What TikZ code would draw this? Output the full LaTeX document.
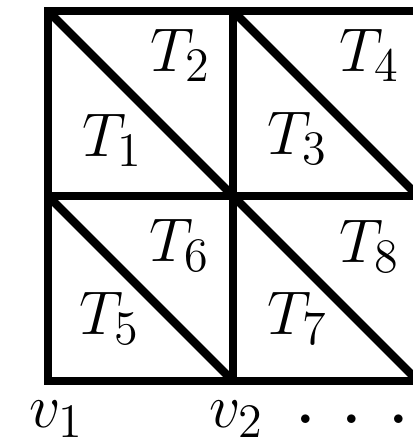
\RequirePackage{fix-cm}
\documentclass[tikz,border=0pt]{standalone}
\usepackage{amsmath,amssymb,tikz}
\DeclareMathSizes{19}{19}{14.8}{11}
\newcommand{\bigmath}{\fontsize{19}{23}\selectfont}
\newcommand{\dotfont}{\fontsize{25}{30}\selectfont}

\begin{document}
\begin{tikzpicture}[x=2cm,y=2cm,line width=2.55pt,
  lbl/.style={font=\bigmath,inner sep=0pt,anchor=base west}]
  \useasboundingbox (-0.259,-0.314) rectangle (1.973,2.059);
  \clip (-0.259,-0.314) rectangle (1.973,2.059);
  % 2x2 squares, each split by its falling diagonal
  \foreach \i in {0,1} {
    \foreach \j in {0,1} {
      \draw (\i,\j) rectangle (\i+1,\j+1);
      \draw (\i,\j+1) -- (\i+1,\j);
    }
  }
  \node[lbl] (t1) at (0.162,1.211) {$T_1$};
  \node[lbl] (t2) at (0.530,1.670) {$T_2$};
  \node[lbl] (t3) at (1.162,1.222) {$T_3$};
  \node[lbl] (t4) at (1.551,1.670) {$T_4$};
  \node[lbl] (t5) at (0.146,0.249) {$T_5$};
  \node[lbl] (t6) at (0.524,0.644) {$T_6$};
  \node[lbl] (t7) at (1.162,0.249) {$T_7$};
  \node[lbl] (t8) at (1.551,0.638) {$T_8$};
  % vertices along the bottom edge
  \node[lbl] (v1) at (-0.124,-0.254) {$v_1$};
  \node[lbl] (v2) at (0.849,-0.254) {$v_2$};
  \node[lbl,font=\dotfont] (dots) at (1.308,-0.319)
    {$\cdot$\hspace{7.4pt}$\cdot$\hspace{7.4pt}$\cdot$};
\end{tikzpicture}
\end{document}
